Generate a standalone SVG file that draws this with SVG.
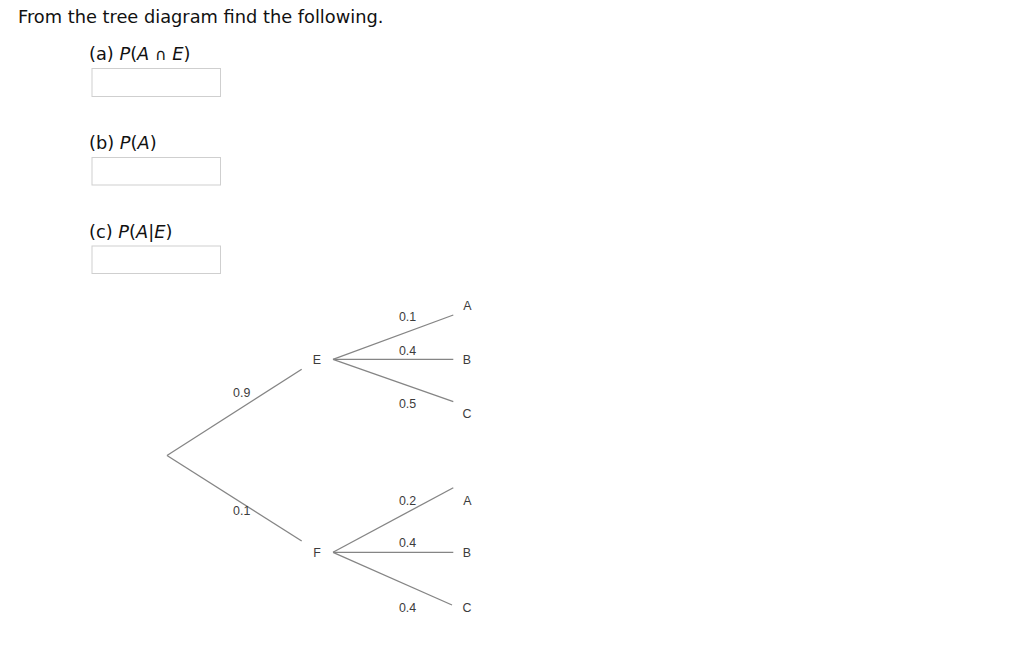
<svg xmlns="http://www.w3.org/2000/svg" width="1024" height="645" viewBox="0 0 1024 645">
<style>
.q{font-family:"DejaVu Sans","Verdana",sans-serif;font-size:17.8px;fill:#111}
.it{font-style:italic}
.box{fill:#fff;stroke:#cfcfcf;stroke-width:1}
.t{font-family:"Liberation Sans",Arial,sans-serif;font-size:12.4px;fill:#3c3c3c;text-anchor:middle}
.c{stroke:#858585;stroke-width:1.3;fill:none}
</style>
<rect width="1024" height="645" fill="#fff"/>
<g id="question">
<text class="q" x="18" y="22.7">From the tree diagram find the following.</text>
<text class="q" x="89" y="60">(a) <tspan class="it">P</tspan>(<tspan class="it">A</tspan> <tspan font-size="16">∩</tspan> <tspan class="it">E</tspan>)</text>
<rect class="box" x="92" y="68.5" width="128.5" height="28"/>
<text class="q" x="89" y="149">(b) <tspan class="it">P</tspan>(<tspan class="it">A</tspan>)</text>
<rect class="box" x="92" y="157.5" width="128.5" height="27.5"/>
<text class="q" x="89" y="237.5">(c) <tspan class="it">P</tspan>(<tspan class="it">A</tspan>|<tspan class="it">E</tspan>)</text>
<rect class="box" x="92" y="246" width="128.5" height="27.5"/>
</g>
<g id="connectors">
<line class="c" x1="167" y1="455.5" x2="301.7" y2="369.3"/>
<line class="c" x1="167" y1="455.5" x2="301.7" y2="541"/>
<line class="c" x1="333" y1="359.3" x2="453.3" y2="315"/>
<line class="c" x1="333" y1="359.3" x2="453.3" y2="359.3"/>
<line class="c" x1="333" y1="359.3" x2="453.3" y2="401.7"/>
<line class="c" x1="333" y1="552.3" x2="453.3" y2="487.7"/>
<line class="c" x1="333" y1="552.3" x2="453.3" y2="552.3"/>
<line class="c" x1="333" y1="552.3" x2="452" y2="605"/>
<text class="t" x="241.7" y="397">0.9</text>
<text class="t" x="241.7" y="515">0.1</text>
<text class="t" x="407.5" y="321">0.1</text>
<text class="t" x="407.5" y="355">0.4</text>
<text class="t" x="407.5" y="408">0.5</text>
<text class="t" x="407.5" y="505">0.2</text>
<text class="t" x="407.5" y="547">0.4</text>
<text class="t" x="407.5" y="611.5">0.4</text>
</g>
<g id="node-E"><text class="t" x="317" y="364">E</text></g>
<g id="node-F"><text class="t" x="317" y="557">F</text></g>
<g id="node-EA"><text class="t" x="467.5" y="310">A</text></g>
<g id="node-EB"><text class="t" x="467" y="364">B</text></g>
<g id="node-EC"><text class="t" x="467" y="418">C</text></g>
<g id="node-FA"><text class="t" x="467.5" y="505">A</text></g>
<g id="node-FB"><text class="t" x="467" y="557">B</text></g>
<g id="node-FC"><text class="t" x="467" y="611.5">C</text></g>
</svg>
